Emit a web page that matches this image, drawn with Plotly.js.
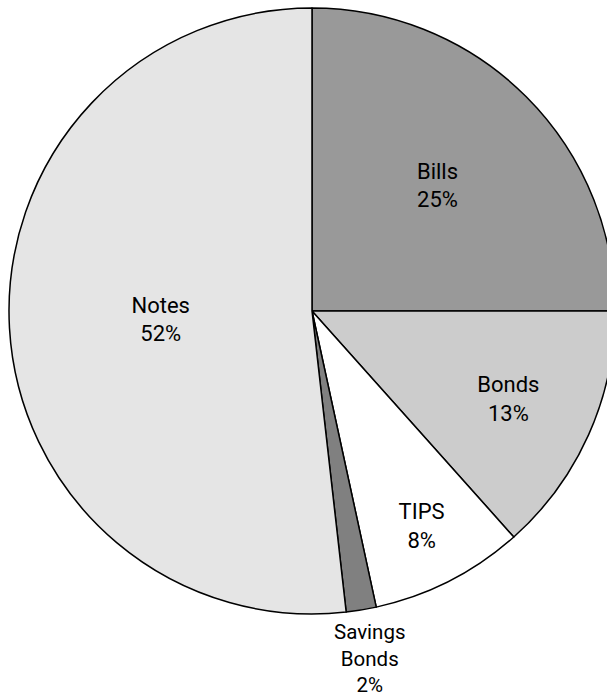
<!DOCTYPE html>
<html>
<head>
<meta charset="utf-8">
<script src="https://cdn.plot.ly/plotly-3.0.1.min.js"></script>
<style>
html, body { margin: 0; padding: 0; overflow: hidden; background: #fff; }
#chart { width: 620px; height: 697px; }
</style>
</head>
<body>
<div id="chart"></div>
<script>
// Data (share of marketable Treasury debt, %)
const categories = ['Bills', 'Bonds', 'TIPS', 'Savings<br>Bonds', 'Notes'];
const shares = [25.0, 13.4, 8.2, 1.6, 51.8];
const sliceColors = ['#999999', '#cccccc', '#ffffff', '#808080', '#e5e5e5'];
// the small Savings Bonds slice is labelled below the pie instead of inside
const textPositions = ['inside', 'inside', 'inside', 'none', 'inside'];

const FONT = 'Roboto, "Liberation Sans", sans-serif';
const total = shares.reduce((a, b) => a + b, 0);
const pctText = shares.map(v => Math.round(v / total * 100) + '%');

const trace = {
  type: 'pie',
  labels: categories,
  values: shares,
  sort: false,
  direction: 'clockwise',
  rotation: 0,
  marker: { colors: sliceColors, line: { color: '#000000', width: 1.5 } },
  texttemplate: '%{label}<br>%{percent:.0%}',
  textposition: textPositions,
  insidetextorientation: 'horizontal',
  textfont: { family: FONT, size: 22, color: '#000000' },
  insidetextfont: { family: FONT, size: 22, color: '#000000' },
  hoverinfo: 'none',
  showlegend: false
};

const layout = {
  width: 615,
  height: 697,
  margin: { l: 9, r: 0, t: 8, b: 83 },
  paper_bgcolor: '#ffffff',
  plot_bgcolor: '#ffffff',
  showlegend: false,
  font: { family: FONT, size: 22, color: '#000000' },
  annotations: [{
    xref: 'paper', yref: 'paper',
    x: 0.5957, y: -0.0066,
    xanchor: 'center', yanchor: 'top',
    text: categories[3] + '<br>' + pctText[3],
    showarrow: false,
    align: 'center',
    font: { family: FONT, size: 20.5, color: '#000000' }
  }]
};

Plotly.newPlot('chart', [trace], layout, { displayModeBar: false, staticPlot: true });
</script>
</body>
</html>
